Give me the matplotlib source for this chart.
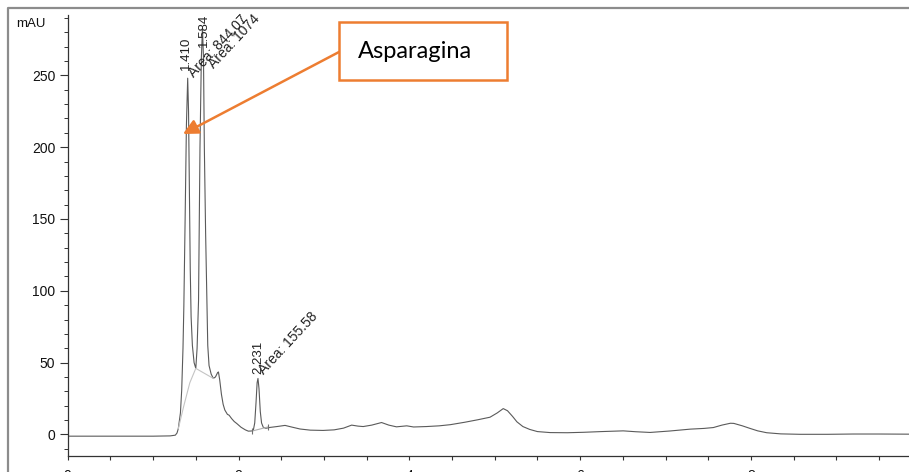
import matplotlib
matplotlib.use("Agg")
import matplotlib.pyplot as plt
from matplotlib.patches import Rectangle
from matplotlib.lines import Line2D
from matplotlib.ticker import MultipleLocator

# chromatogram trace (time in min, signal in mAU)
time_min = [0.0, 0.5, 1.0, 1.2, 1.26, 1.28, 1.295, 1.32, 1.335, 1.35, 1.36,
            1.375, 1.39, 1.405, 1.415, 1.425, 1.435, 1.445, 1.46, 1.48, 1.50,
            1.515, 1.532, 1.549, 1.565, 1.578, 1.59, 1.60, 1.615, 1.63, 1.64,
            1.655, 1.68, 1.705, 1.73, 1.755, 1.765, 1.78, 1.80, 1.82, 1.84,
            1.87, 1.89, 1.92, 1.95, 1.98, 2.03, 2.08, 2.115, 2.15, 2.173,
            2.19, 2.205, 2.218, 2.228, 2.24, 2.255, 2.27, 2.29, 2.32, 2.37,
            2.45, 2.545, 2.62, 2.72, 2.84, 2.99, 3.12, 3.23, 3.325, 3.40,
            3.46, 3.56, 3.675, 3.76, 3.85, 3.97, 4.05, 4.2, 4.35, 4.48, 4.65,
            4.80, 4.945, 5.03, 5.10, 5.15, 5.21, 5.26, 5.33, 5.41, 5.5, 5.65,
            5.85, 6.04, 6.25, 6.505, 6.65, 6.82, 7.05, 7.29, 7.45, 7.56, 7.66,
            7.76, 7.80, 7.9, 7.99, 8.08, 8.185, 8.35, 8.575, 8.9, 9.2, 9.5,
            9.85]
signal_mau = [-1.2, -1.2, -1.2, -1.0, -0.5, 1.0, 4, 15, 31, 60, 89,
              150, 215, 248, 225, 170, 115, 82, 62, 50, 46,
              60, 93, 200, 262, 283, 262, 200, 140, 93, 62,
              48, 42, 39, 40, 43, 43.5, 38, 28, 21, 17,
              14, 13.4, 11, 9, 7.6, 5, 3.2, 2.3, 2.4, 2.8,
              8, 22, 36, 39, 32, 16, 8, 5, 4.3, 4.9,
              5.5, 6.3, 5.2, 3.8, 3.0, 2.8, 3.2, 4.4, 6.5, 5.8,
              5.5, 6.5, 8.3, 6.5, 5.3, 6.0, 5.2, 5.5, 6.0, 6.8, 8.5,
              10.2, 12, 15, 18, 16.5, 12.5, 8.8, 5.5, 3.5, 2.0, 1.3,
              1.2, 1.5, 2.0, 2.5, 1.9, 1.4, 2.4, 3.7, 4.2, 4.8, 6.5,
              7.8, 7.7, 6.0, 4.2, 2.5, 1.2, 0.4, 0.1, 0.1, 0.3, 0.3,
              0.2]

# integration baselines drawn in light grey
base1_t = [1.295, 1.36, 1.43, 1.50, 1.705]
base1_y = [4, 20, 36, 46, 39]
base2_t = [2.155, 2.35]
base2_y = [2.3, 5.3]

# peak annotations
peak_rt = ["1.410", "1.584", "2.231"]
peak_lbl_t = [1.45, 1.665, 2.30]
peak_lbl_y = [254, 270, 42]
area_txt = ["Area: 844.07", "Area: 1074", "Area: 155.58"]
area_t = [1.50, 1.74, 2.33]
area_y = [247, 253, 40]

W, H = 909, 472
fig = plt.figure(figsize=(W / 100, H / 100), dpi=100)
plt.rcParams['font.family'] = ['Liberation Sans', 'DejaVu Sans']

# axes placed in pixels, right end runs off the page like the scan
left_px, bottom_px, top_px = 67.7, 456, 15
x_max = 10.0
px_per_min = 85.4
ax = fig.add_axes([left_px / W, (H - bottom_px) / H,
                   x_max * px_per_min / W, (bottom_px - top_px) / H])
ax.set_xlim(0, x_max)
ax.set_ylim(-15, 292)

ax.plot(time_min, signal_mau, color="#5a5a5a", lw=0.8)
ax.plot(base1_t, base1_y, color="#c4c4c4", lw=0.8)
ax.plot(base2_t, base2_y, color="#b0b0b0", lw=0.8)
ax.plot(base2_t, base2_y, ls="none", marker="|", ms=5, color="#707070", mew=0.8)

for lbl, t, y in zip(peak_rt, peak_lbl_t, peak_lbl_y):
    ax.text(t, y, lbl, rotation=90, ha="right", va="bottom", fontsize=9.5,
            color="#222222")
for lbl, t, y in zip(area_txt, area_t, area_y):
    ax.text(t, y, lbl, rotation=47, rotation_mode="anchor", ha="left",
            va="bottom", fontsize=10, color="#222222")

for s in ["top", "right"]:
    ax.spines[s].set_visible(False)
for s in ["left", "bottom"]:
    ax.spines[s].set_color("#333333")
    ax.spines[s].set_linewidth(0.9)

ax.yaxis.set_major_locator(MultipleLocator(50))
ax.yaxis.set_minor_locator(MultipleLocator(10))
ax.xaxis.set_major_locator(MultipleLocator(2))
ax.xaxis.set_minor_locator(MultipleLocator(0.5))
ax.set_yticks([0, 50, 100, 150, 200, 250])
ax.tick_params(axis="y", which="major", length=6, width=0.8, pad=3,
               labelsize=10, colors="#333333", labelcolor="#111111")
ax.tick_params(axis="y", which="minor", length=3, width=0.7, colors="#333333")
ax.tick_params(axis="x", which="both", length=3, width=0.8, pad=6,
               labelsize=10, colors="#333333", labelcolor="#111111")

fig.text(16 / W, 1 - 24 / H, "mAU", fontsize=9.5, ha="left", va="center",
         color="#111111")
ax.annotate("min", xy=(9.8, -15), xytext=(0, -9), textcoords="offset points",
            ha="left", va="top", fontsize=10, color="#111111")

# outer grey frame of the scanned report (cut at right and bottom)
fig.add_artist(Line2D([8 / W, 8 / W, 1.01], [-0.01, 1 - 8 / H, 1 - 8 / H],
                      transform=fig.transFigure, color="#8c8c8c", lw=1.6))

# orange callout
orange = "#ED7D31"
fig.add_artist(Rectangle((339 / W, 1 - 80 / H), 168 / W, 58 / H,
                         transform=fig.transFigure, facecolor="white",
                         edgecolor=orange, lw=1.8))
fig.text(358 / W, 1 - 52 / H, "Asparagina", fontsize=17, family="Lato",
         ha="left", va="center", color="black")
ax.annotate("", xy=(183 / W, 1 - 134 / H), xytext=(339 / W, 1 - 52 / H),
            xycoords="figure fraction", textcoords="figure fraction",
            arrowprops=dict(arrowstyle="-|>,head_length=0.9,head_width=0.45",
                            color=orange, lw=1.8, shrinkA=0, shrinkB=0,
                            mutation_scale=10))

plt.savefig("out.png", dpi=100)
